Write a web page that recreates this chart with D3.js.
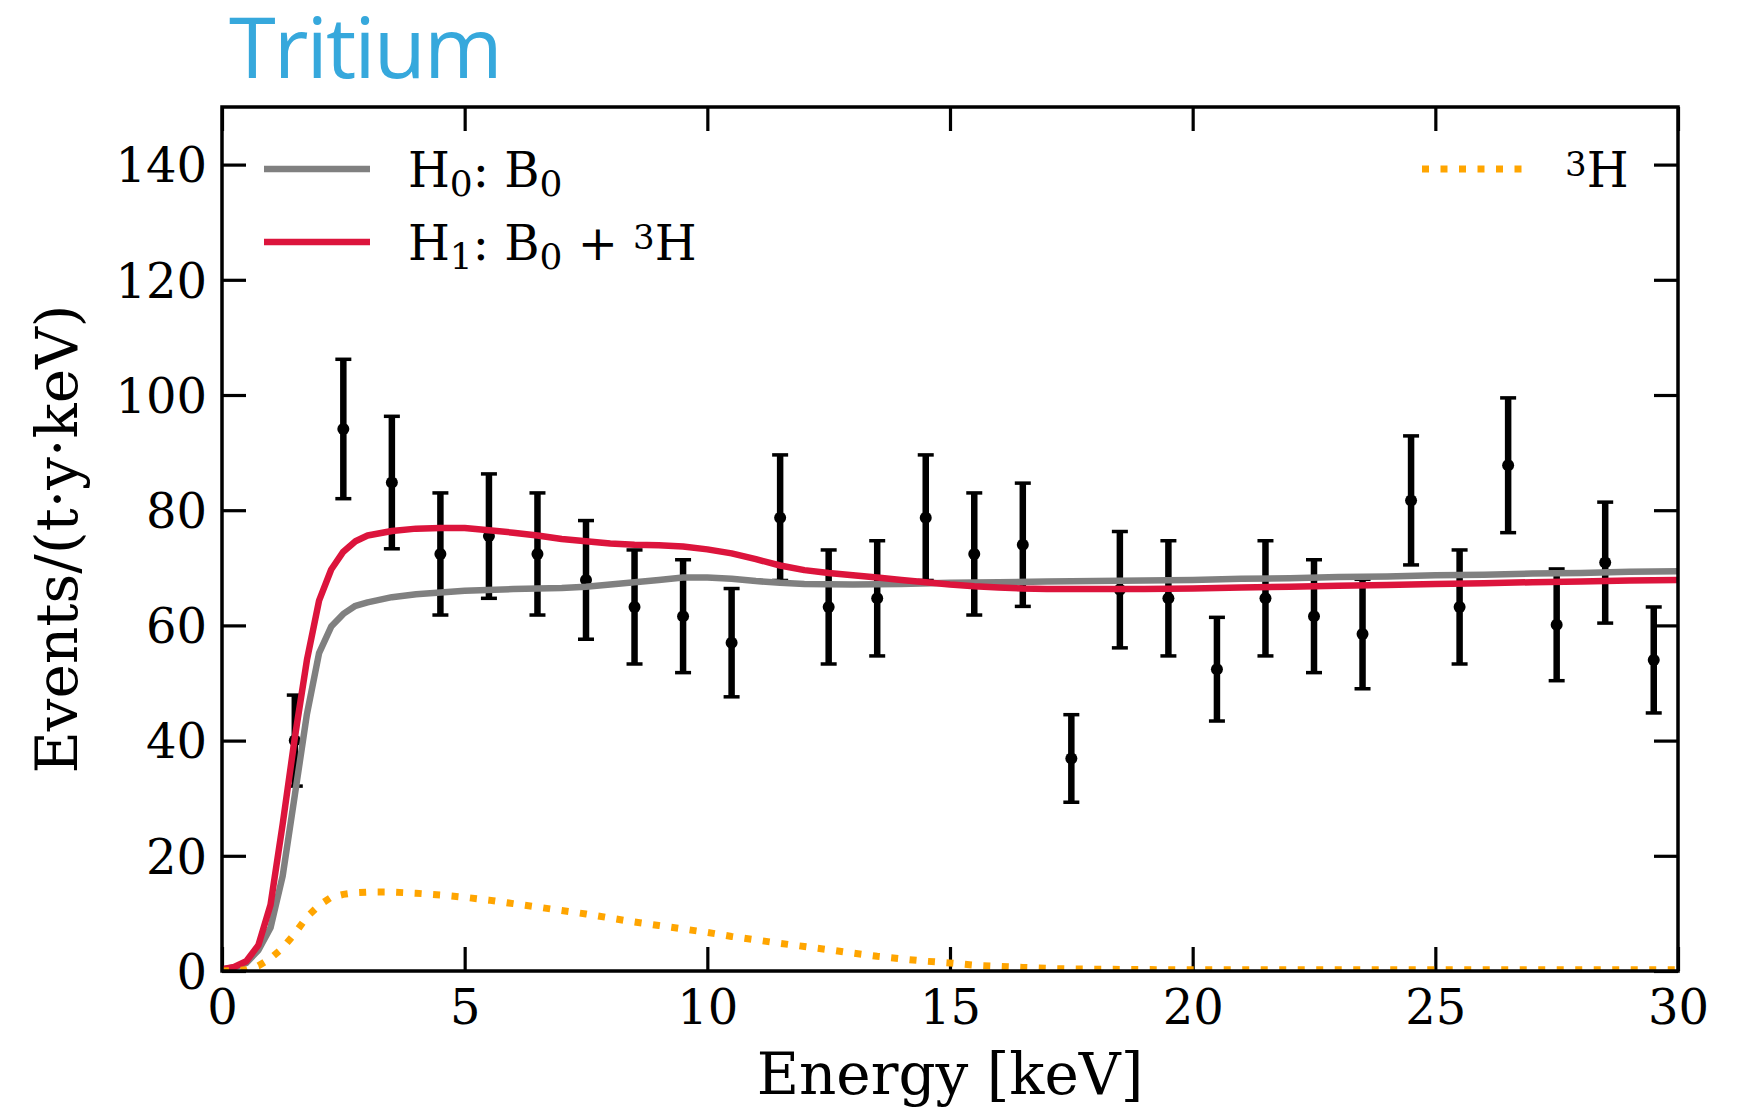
<!DOCTYPE html>
<html>
<head>
<meta charset="utf-8">
<script src="https://cdn.jsdelivr.net/npm/d3@7"></script>
<style>
  html, body { margin: 0; padding: 0; background: #fff; }
  svg { display: block; }
  text { font-family: "DejaVu Serif", serif; fill: #000; }
</style>
</head>
<body>
<svg id="chart" width="1742" height="1109"></svg>
<script>
// Measured spectrum: bin centres (keV), rates and 1-sigma errors
const binEnergy = [1.5, 2.5, 3.5, 4.5, 5.5, 6.5, 7.5, 8.5, 9.5, 10.5, 11.5, 12.5, 13.5, 14.5, 15.5,
                   16.5, 17.5, 18.5, 19.5, 20.5, 21.5, 22.5, 23.5, 24.5, 25.5, 26.5, 27.5, 28.5, 29.5];
const binRate = [40.0, 94.1, 84.8, 72.4, 75.5, 72.4, 67.9, 63.2, 61.6, 57.0, 78.7, 63.2, 64.7, 78.7, 72.4,
                 74.0, 36.9, 66.2, 64.7, 52.4, 64.7, 61.6, 58.5, 81.7, 63.2, 87.8, 60.1, 70.9, 54.0];
const binError = [7.9, 12.1, 11.5, 10.6, 10.8, 10.6, 10.3, 9.9, 9.8, 9.4, 10.9, 9.9, 10.0, 10.9, 10.6,
                  10.7, 7.6, 10.1, 10.0, 9.0, 10.0, 9.8, 9.5, 11.2, 9.9, 11.7, 9.7, 10.5, 9.2];

// Background-only model H0: B0
const h0Energy = [0, 0.25, 0.5, 0.75, 1.0, 1.25, 1.5, 1.75, 2.0, 2.25, 2.5, 2.75, 3.0, 3.5, 4.0, 5.0, 6.0,
                  7.0, 7.5, 8.0, 8.5, 9.0, 9.5, 10.0, 10.5, 11.0, 11.5, 12.0, 13.0, 14.0, 15.0, 16.0, 17.0,
                  18.0, 19.0, 20.0, 21.0, 22.0, 23.0, 24.0, 25.0, 26.0, 27.0, 28.0, 29.0, 30.0];
const h0Rate = [0.3, 0.6, 1.4, 3.6, 7.5, 16.5, 30.5, 44.6, 55.2, 59.8, 62.0, 63.4, 64.0, 64.9, 65.4, 66.0, 66.3,
                66.5, 66.7, 67.1, 67.5, 67.9, 68.3, 68.3, 68.1, 67.7, 67.4, 67.2, 67.1, 67.2, 67.4, 67.5, 67.6,
                67.7, 67.8, 67.9, 68.1, 68.2, 68.4, 68.5, 68.7, 68.8, 69.0, 69.1, 69.3, 69.4];

// Background plus tritium model H1: B0 + 3H
const h1Energy = [0, 0.25, 0.5, 0.75, 1.0, 1.25, 1.5, 1.75, 2.0, 2.25, 2.5, 2.75, 3.0, 3.5, 4.0, 4.5, 5.0,
                  5.5, 6.0, 6.5, 7.0, 7.5, 8.0, 8.5, 9.0, 9.5, 10.0, 10.5, 11.0, 11.5, 12.0, 12.5, 13.0,
                  13.5, 14.0, 14.5, 15.0, 15.5, 16.0, 16.5, 17.0, 18.0, 19.0, 20.0, 21.0, 22.0, 23.0, 24.0,
                  25.0, 26.0, 27.0, 28.0, 29.0, 30.0];
const h1Rate = [0.3, 0.7, 1.7, 4.5, 11.5, 25.5, 40.5, 54.0, 64.3, 69.7, 72.8, 74.6, 75.6, 76.4, 76.8, 76.9, 76.9,
                76.5, 76.1, 75.6, 75.0, 74.6, 74.2, 74.0, 73.9, 73.7, 73.2, 72.5, 71.5, 70.4, 69.6, 69.1, 68.7,
                68.3, 67.9, 67.5, 67.1, 66.8, 66.6, 66.4, 66.3, 66.3, 66.3, 66.4, 66.6, 66.7, 66.9, 67.0,
                67.2, 67.3, 67.5, 67.6, 67.8, 67.9];

// Tritium component alone
const tritEnergy = [0, 0.5, 0.75, 1.0, 1.25, 1.5, 1.75, 2.0, 2.25, 2.5, 2.75, 3.0, 3.5, 4.0, 4.5, 5.0, 5.5,
                    6.0, 6.5, 7.0, 7.5, 8.0, 8.5, 9.0, 9.5, 10.0, 10.5, 11.0, 11.5, 12.0, 12.5, 13.0, 13.5,
                    14.0, 14.5, 15.0, 15.5, 16.0, 16.5, 17.0, 17.5, 18.0, 19.0, 20.0, 25.0, 30.0];
const tritRate = [0, 0.2, 0.9, 2.2, 4.0, 6.5, 9.4, 11.4, 12.8, 13.3, 13.6, 13.7, 13.7, 13.5, 13.2, 12.8, 12.3,
                  11.7, 11.1, 10.5, 9.9, 9.2, 8.5, 7.9, 7.3, 6.7, 6.0, 5.4, 4.8, 4.25, 3.7, 3.1, 2.55,
                  2.1, 1.7, 1.4, 1.0, 0.8, 0.62, 0.45, 0.35, 0.3, 0.25, 0.2, 0.2, 0.2];

const xTicks = [0, 5, 10, 15, 20, 25, 30];
const yTicks = [0, 20, 40, 60, 80, 100, 120, 140];

const svg = d3.select("#chart");
const plotLeft = 222, plotRight = 1678, plotTop = 107, plotBottom = 971;

const x = d3.scaleLinear().domain([0, 30]).range([plotLeft, plotRight]);
const y = d3.scaleLinear().domain([0, 150]).range([plotBottom, plotTop]);

svg.append("rect").attr("width", 1742).attr("height", 1109).attr("fill", "#fff");

// Heading
svg.append("text")
  .attr("x", 229).attr("y", 78)
  .style("font-family", "'Open Sans', sans-serif")
  .style("font-size", "85px")
  .style("letter-spacing", "-2px")
  .style("fill", "#36a8dc")
  .text("Tritium");

svg.append("defs").append("clipPath").attr("id", "plotClip")
  .append("rect").attr("x", plotLeft).attr("y", plotTop)
  .attr("width", plotRight - plotLeft).attr("height", plotBottom - plotTop);

// Axes with inward ticks on all four sides
const tickFont = "48px";
const gx = svg.append("g").attr("transform", `translate(0,${plotBottom})`)
  .call(d3.axisBottom(x).tickValues(xTicks).tickSize(-24).tickPadding(19).tickFormat(d3.format("d")));
const gy = svg.append("g").attr("transform", `translate(${plotLeft},0)`)
  .call(d3.axisLeft(y).tickValues(yTicks).tickSize(-24).tickPadding(15).tickFormat(d3.format("d")));
const gt = svg.append("g").attr("transform", `translate(0,${plotTop})`)
  .call(d3.axisTop(x).tickValues(xTicks).tickSize(-24).tickFormat(""));
const gr = svg.append("g").attr("transform", `translate(${plotRight},0)`)
  .call(d3.axisRight(y).tickValues(yTicks).tickSize(-24).tickFormat(""));

[gx, gy, gt, gr].forEach(g => {
  g.select(".domain").remove();
  g.selectAll(".tick line").attr("stroke", "#000").attr("stroke-width", 3.2);
  g.selectAll(".tick text")
    .style("font-family", "'DejaVu Serif', serif")
    .style("font-size", tickFont)
    .attr("fill", "#000");
});
gy.selectAll(".tick text").attr("dy", "0.36em");

// Axis titles
svg.append("text")
  .attr("x", (plotLeft + plotRight) / 2).attr("y", 1094)
  .attr("text-anchor", "middle")
  .style("font-size", "58px")
  .text("Energy [keV]");

svg.append("text")
  .attr("transform", `translate(77,${(plotTop + plotBottom) / 2}) rotate(-90)`)
  .attr("text-anchor", "middle")
  .style("font-size", "58px")
  .text("Events/(t·y·keV)");

const plot = svg.append("g").attr("clip-path", "url(#plotClip)");

// Data points with error bars
const points = binEnergy.map((e, i) => ({ e, v: binRate[i], err: binError[i] }));
const pts = plot.append("g");
pts.selectAll("line.bar").data(points).join("line")
  .attr("class", "bar")
  .attr("x1", d => x(d.e)).attr("x2", d => x(d.e))
  .attr("y1", d => y(d.v - d.err)).attr("y2", d => y(d.v + d.err))
  .attr("stroke", "#000").attr("stroke-width", 6.5);
[["lo", -1], ["hi", 1]].forEach(([name, s]) => {
  pts.selectAll(`line.cap-${name}`).data(points).join("line")
    .attr("class", `cap-${name}`)
    .attr("x1", d => x(d.e) - 8).attr("x2", d => x(d.e) + 8)
    .attr("y1", d => y(d.v + s * d.err)).attr("y2", d => y(d.v + s * d.err))
    .attr("stroke", "#000").attr("stroke-width", 3.5);
});
pts.selectAll("circle").data(points).join("circle")
  .attr("cx", d => x(d.e)).attr("cy", d => y(d.v)).attr("r", 6).attr("fill", "#000");

// Model curves
const line = d3.line().x(d => x(d[0])).y(d => y(d[1]));
const zip = (a, b) => a.map((v, i) => [v, b[i]]);

plot.append("path").datum(zip(h0Energy, h0Rate)).attr("d", line)
  .attr("fill", "none").attr("stroke", "#808080").attr("stroke-width", 6.5).attr("stroke-linejoin", "round");
plot.append("path").datum(zip(h1Energy, h1Rate)).attr("d", line)
  .attr("fill", "none").attr("stroke", "#dc143c").attr("stroke-width", 6.5).attr("stroke-linejoin", "round");
plot.append("path").datum(zip(tritEnergy, tritRate)).attr("d", line)
  .attr("fill", "none").attr("stroke", "#ffa500").attr("stroke-width", 7)
  .attr("stroke-dasharray", "7 11.5");

// Frame
svg.append("rect")
  .attr("x", plotLeft).attr("y", plotTop)
  .attr("width", plotRight - plotLeft).attr("height", plotBottom - plotTop)
  .attr("fill", "none").attr("stroke", "#000").attr("stroke-width", 3.5);

// Legends (sub- and superscripts as shifted tspans)
const legFont = 48, subFont = 36, supFont = 34;
function legendRow(g, parts) {
  const t = g.append("text").style("font-size", legFont + "px");
  parts.forEach(p => {
    const ts = t.append("tspan").text(p.t);
    if (p.sub) ts.style("font-size", subFont + "px").attr("dy", 9);
    else if (p.sup) ts.style("font-size", supFont + "px").attr("dy", -11);
    if (p.reset) ts.attr("dy", p.reset);
  });
  return t;
}

const legL = svg.append("g");
legL.append("line").attr("x1", 264).attr("x2", 370).attr("y1", 169).attr("y2", 169)
  .attr("stroke", "#808080").attr("stroke-width", 6.5);
legL.append("line").attr("x1", 264).attr("x2", 370).attr("y1", 242).attr("y2", 242)
  .attr("stroke", "#dc143c").attr("stroke-width", 6.5);
legendRow(legL.append("g").attr("transform", "translate(408,187)"), [
  { t: "H" }, { t: "0", sub: true }, { t: ": B", reset: -9 }, { t: "0", sub: true }
]);
legendRow(legL.append("g").attr("transform", "translate(408,260)"), [
  { t: "H" }, { t: "1", sub: true }, { t: ": B", reset: -9 }, { t: "0", sub: true },
  { t: " + ", reset: -9 }, { t: "3", sup: true }, { t: "H", reset: 11 }
]);

const legR = svg.append("g");
legR.append("line").attr("x1", 1422).attr("x2", 1522).attr("y1", 169).attr("y2", 169)
  .attr("stroke", "#ffa500").attr("stroke-width", 7).attr("stroke-dasharray", "7 11.5");
legendRow(legR.append("g").attr("transform", "translate(1565,187)"), [
  { t: "3", sup: true }, { t: "H", reset: 11 }
]);
</script>
</body>
</html>
